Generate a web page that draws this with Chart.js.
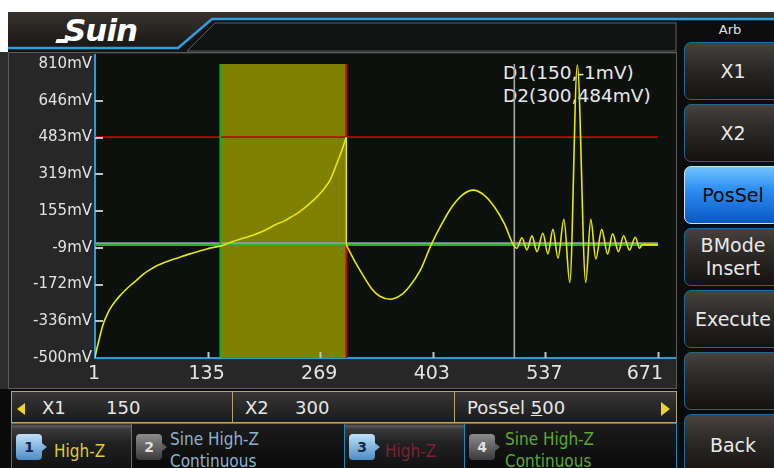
<!DOCTYPE html>
<html>
<head>
<meta charset="utf-8">
<script src="https://cdn.jsdelivr.net/npm/chart.js@4.4.0/dist/chart.umd.min.js"></script>
<style>
  html, body { margin: 0; padding: 0; }
  body { width: 774px; height: 468px; position: relative; overflow: hidden; background: #fff; font-family: "DejaVu Sans", sans-serif; }
  .a { position: absolute; box-sizing: border-box; }
  .lbl { position: absolute; white-space: nowrap; }
  .btn { position: absolute; left: 684px; width: 98px; height: 58px; box-sizing: border-box; border: 1px solid #1d6b94; border-radius: 7px;
         background: linear-gradient(#47423e, #2b2825 45%, #141210); color: #e9e9e9; font-size: 19px; display: flex; align-items: center; justify-content: center; text-align: center; line-height: 23px; }
  .btn.on { background: linear-gradient(#72c4ff, #2d8ef2 40%, #0a58c4); border-color: #cfe2f2; color: #0a0a0a; }
  .tab { position: absolute; top: 423px; height: 45px; box-sizing: border-box; border-top: 1px solid #1d88bd; border-left: 1px solid #1d88bd; }
  .tab.lit { background: linear-gradient(#2a2a2a 0, #5a5a5a 2px, #3a3a3a 5px, #222 18px, #121212 100%); }
  .tab.dim { background: linear-gradient(#1c1c1c, #0a0a0a); }
  .badge { position: absolute; top: 10px; width: 26px; height: 26px; border-radius: 4px; font: bold 14px "DejaVu Sans"; text-align: center; line-height: 26px; }
  .badge::after { content: ""; position: absolute; right: -5px; top: 9px; border-top: 4px solid transparent; border-bottom: 4px solid transparent; border-left: 5px solid; }
  .badge.blue { background: linear-gradient(#c0e0f8, #4c8cc4); color: #102848; }
  .badge.blue::after { border-left-color: #7cb0dc; }
  .badge.gray { background: linear-gradient(#8c8c8c, #3a3a3a); color: #e0e0e0; }
  .badge.gray::after { border-left-color: #5c5c5c; }
  .tt { position: absolute; font-family: "DejaVu Sans Condensed", "DejaVu Sans", sans-serif; font-stretch: condensed; font-size: 17px; line-height: 22px; white-space: nowrap; }
  .bar { font-size: 18px; color: #e6e6e6; top: 396px; line-height: 24px; }
</style>
</head>
<body>
<!-- header -->
<div class="a" style="left:8px;top:12px;width:766px;height:40px;background:linear-gradient(#37322e,#151311);"></div>
<svg class="a" style="left:0;top:0" width="774" height="56">
  <polygon points="212,19 774,19 774,56 172,56" fill="#121212"/>
  <polygon points="187,51 215,23 676,23 676,51" fill="#0f1311" stroke="#5e5e5e" stroke-width="1"/>
  <polyline points="8,48 178,48 212,19 774,19" fill="none" stroke="#2c9fdf" stroke-width="2.5"/>
</svg>
<div class="lbl" style="left:64px;top:12px;font:italic bold 31px 'DejaVu Sans';color:#fff;letter-spacing:-1px;">Suin</div>
<div class="a" style="left:56px;top:39px;width:12px;height:4px;background:#fff;transform:skewX(-20deg);"></div>

<!-- right panel -->
<div class="a" style="left:677px;top:21px;width:97px;height:447px;background:#0c0c0c;"></div>
<div class="lbl" style="left:677px;width:106px;top:22px;text-align:center;font-size:13px;color:#e0e0e0;">Arb</div>
<div class="btn" style="top:42px;">X1</div>
<div class="btn" style="top:104px;">X2</div>
<div class="btn on" style="top:166px;">PosSel</div>
<div class="btn" style="top:228px;">BMode<br>Insert</div>
<div class="btn" style="top:290px;">Execute</div>
<div class="btn" style="top:352px;"></div>
<div class="btn" style="top:414px;height:62px;">Back</div>

<!-- plot frame -->
<div class="a" style="left:0;top:52px;width:677px;height:339px;background:#2d2d2d;"></div>
<div class="a" style="left:8px;top:52px;width:669px;height:337px;background:#272727;border:1px solid #5c5c5c;"></div>
<div class="a" style="left:94px;top:54px;width:582px;height:305px;background:#0d110e;border-left:2px solid #2a9ad8;border-bottom:2px solid #2a9ad8;"></div>
<div class="lbl" style="left:503px;top:61px;font-size:18.5px;line-height:23px;color:#e8e8e8;">D1(150,-1mV)<br>D2(300,484mV)</div>
<canvas id="wave" class="a" style="left:10px;top:52px;" width="666" height="338"></canvas>

<!-- value bar -->
<div class="a" style="left:0;top:389px;width:684px;height:79px;background:#0a0a0a;"></div>
<div class="a" style="left:11px;top:391px;width:666px;height:32px;border:1px solid #b2a66a;background:linear-gradient(#363636,#1b1b1b);"></div>
<div class="a" style="left:232px;top:391px;width:1px;height:32px;background:#b2a66a;"></div>
<div class="a" style="left:454px;top:391px;width:1px;height:32px;background:#b2a66a;"></div>
<div class="a" style="left:17px;top:403px;width:0;height:0;border-top:6px solid transparent;border-bottom:6px solid transparent;border-right:8px solid #e8d62e;"></div>
<div class="a" style="left:661px;top:402px;width:0;height:0;border-top:7px solid transparent;border-bottom:7px solid transparent;border-left:9px solid #e8d62e;"></div>
<div class="lbl bar" style="left:42px;">X1</div>
<div class="lbl bar" style="left:106px;">150</div>
<div class="lbl bar" style="left:245px;">X2</div>
<div class="lbl bar" style="left:295px;">300</div>
<div class="lbl bar" style="left:467px;">PosSel <span style="text-decoration:underline;">5</span>00</div>

<!-- channel tabs -->
<div class="tab lit" style="left:11px;width:120px;">
  <div class="badge blue" style="left:4px;">1</div>
  <div class="tt" style="left:42px;top:16px;color:#dccd3a;">High-Z</div>
</div>
<div class="tab dim" style="left:131px;width:213px;">
  <div class="badge gray" style="left:4px;">2</div>
  <div class="tt" style="left:38px;top:4px;color:#8ab2d2;">Sine High-Z<br>Continuous</div>
</div>
<div class="tab lit" style="left:344px;width:120px;">
  <div class="badge blue" style="left:4px;">3</div>
  <div class="tt" style="left:40px;top:16px;color:#7a2434;">High-Z</div>
</div>
<div class="tab dim" style="left:464px;width:213px;border-right:1px solid #1d88bd;">
  <div class="badge gray" style="left:4px;">4</div>
  <div class="tt" style="left:40px;top:4px;color:#5ea832;">Sine High-Z<br>Continuous</div>
</div>

<script>
// axis ticks
const xTickValues = [1, 135, 269, 403, 537, 671];
const xTickLabels = ['1', '135', '269', '403', '537', '671'];
const yTickValues = [-500, -336.25, -172.5, -8.75, 155, 318.75, 482.5, 646.25, 810];
const yTickLabels = ['-500mV', '-336mV', '-172mV', '-9mV', '155mV', '319mV', '483mV', '646mV', '810mV'];

// cursors and levels
const x1Pos = 150;
const x2Pos = 300;
const posSel = 500;
const d1Level = 4;
const refLevel = 12;
const d2Level = 484;

// arbitrary waveform, first part (x index, mV)
const rampX = [
  1, 3, 5, 8, 11, 15, 19, 25, 31, 37, 43, 50, 59, 67, 75, 85, 95, 105, 114, 124, 134, 142, 150,
  160, 174, 185, 194, 205, 217, 226, 233, 243, 253, 263, 273, 281, 289, 295, 300
];
const rampMv = [
  -500, -462, -432, -385, -346, -310, -280, -248, -221, -198, -177, -155, -125, -105, -88, -72, -59, -47, -36, -25, -14, -7, -1,
  12, 30, 42, 55, 73, 96, 110, 125, 148, 177, 210, 251, 295, 369, 428, 484
];
// second part: sine period then ringing burst
const tailX = [
  300, 310, 320, 330, 340, 352, 364, 375, 388, 401, 414, 426, 438, 451, 464, 476, 488, 499,
  503, 509, 515, 521, 527, 534, 540, 546, 552, 559, 566, 575, 585, 591, 597, 604, 611, 617,
  624, 630, 637, 644, 649, 652, 671
];
const tailMv = [
  4, -68, -132, -190, -225, -238, -222, -182, -110, 4, 100, 175, 226, 248, 226, 175, 100, 4,
  -11, 36, -18, 44, -26, 56, -36, 73, -55, 118, -163, 805, -163, 118, -59, 73, -37, 53,
  -26, 45, -18, 38, -11, 4, 4
];

const pts = (xs, ys) => xs.map((v, i) => ({ x: v, y: ys[i] }));
const lineSet = (data, color, width) => ({
  data, borderColor: color, borderWidth: width, pointRadius: 0, tension: 0, fill: false
});
const waveSet = data => Object.assign(lineSet(data, '#e8e800', 1.6), { cubicInterpolationMode: 'monotone' });

const screenMarks = {
  id: 'screenMarks',
  afterDatasetsDraw(chart) {
    const { ctx, chartArea, scales: { x, y } } = chart;
    ctx.save();
    ctx.strokeStyle = '#c2c2c2';
    ctx.lineWidth = 2;
    yTickValues.slice(1, -1).forEach(v => {
      const py = Math.round(y.getPixelForValue(v));
      ctx.beginPath();
      ctx.moveTo(chartArea.left, py);
      ctx.lineTo(chartArea.left + 8, py);
      ctx.stroke();
    });
    xTickValues.slice(1).forEach(v => {
      const px = Math.round(x.getPixelForValue(v)) + 0.5;
      ctx.beginPath();
      ctx.moveTo(px, chartArea.bottom - 6);
      ctx.lineTo(px, chartArea.bottom);
      ctx.stroke();
    });
    ctx.restore();
  },
  afterDraw(chart) {
    const { ctx, chartArea, scales: { x } } = chart;
    ctx.save();
    ctx.font = '19px "DejaVu Sans"';
    ctx.fillStyle = '#e4e4e4';
    ctx.textBaseline = 'middle';
    xTickValues.forEach((v, i) => {
      const px = x.getPixelForValue(v);
      const last = i === xTickValues.length - 1;
      ctx.textAlign = last ? 'right' : 'center';
      ctx.fillText(xTickLabels[i], last ? px + 5 : px - 1, chartArea.bottom + 16);
    });
    ctx.restore();
  }
};

const dropX = [rampX[rampX.length - 1], tailX[0]];
const dropMv = [rampMv[rampMv.length - 1], tailMv[0]];

new Chart(document.getElementById('wave').getContext('2d'), {
  type: 'line',
  data: {
    datasets: [
      waveSet(pts(rampX, rampMv)),
      waveSet(pts(tailX, tailMv)),
      lineSet(pts(dropX, dropMv), '#e8e800', 1.6),
      lineSet(pts([posSel, posSel], [-500, 810]), '#a8a8a8', 1.6),
      lineSet(pts([x2Pos, x2Pos], [-500, 810]), '#d00000', 1.6),
      lineSet(pts([x1Pos, x1Pos], [-500, 810]), '#10b020', 1.6),
      lineSet(pts([1, 671], [d2Level, d2Level]), '#c80000', 1.6),
      lineSet(pts([1, 671], [d1Level, d1Level]), '#18b828', 2),
      lineSet(pts([1, 671], [refLevel, refLevel]), '#9a9a9a', 1.6),
      {
        data: pts([x1Pos, x2Pos], [810, 810]),
        borderWidth: 0, pointRadius: 0, tension: 0,
        backgroundColor: '#808000', fill: 'start'
      }
    ]
  },
  options: {
    responsive: false,
    animation: false,
    events: [],
    layout: { padding: { left: 0, right: 18, top: 10, bottom: 0 } },
    plugins: { legend: { display: false }, tooltip: { enabled: false } },
    scales: {
      x: {
        type: 'linear', min: 1, max: 671,
        afterFit: s => { s.height = 32; },
        grid: { display: false, drawTicks: false },
        border: { display: false },
        ticks: { display: false }
      },
      y: {
        type: 'linear', min: -500, max: 810,
        afterBuildTicks: s => { s.ticks = yTickValues.map(v => ({ value: v })); },
        afterFit: s => { s.width = 85; },
        grid: { display: false, drawTicks: false },
        border: { display: false },
        ticks: {
          autoSkip: false,
          padding: 3,
          color: '#e2e2e2',
          font: { family: 'DejaVu Sans', size: 15 },
          callback: (v, i) => yTickLabels[i]
        }
      }
    }
  },
  plugins: [screenMarks]
});
</script>
</body>
</html>
